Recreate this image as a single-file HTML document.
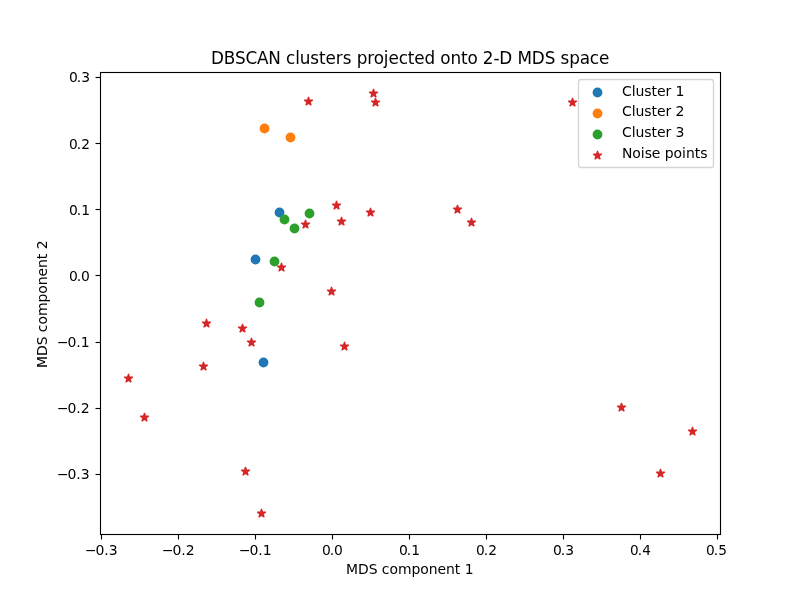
<!DOCTYPE html>
<html lang="en">
<head>
<meta charset="utf-8">
<title>DBSCAN clusters projected onto 2-D MDS space</title>
<style>
html,body{margin:0;padding:0;background:#fff;overflow:hidden}
body{width:800px;height:600px}
svg text{white-space:pre;}
</style>
</head>
<body>
<svg width="800" height="600" viewBox="0 0 800 600" style="display:block;font-family:'DejaVu Sans', 'Liberation Sans', sans-serif">
<rect x="0" y="0" width="800" height="600" fill="#ffffff"/>
<g>
<circle cx="279.5" cy="212.5" r="4.9" fill="#1f77b4"/>
<circle cx="255.5" cy="259.5" r="4.9" fill="#1f77b4"/>
<circle cx="263.5" cy="362.5" r="4.9" fill="#1f77b4"/>
<circle cx="264.5" cy="128.5" r="4.9" fill="#ff7f0e"/>
<circle cx="290.5" cy="137.5" r="4.9" fill="#ff7f0e"/>
<circle cx="284.5" cy="219.5" r="4.9" fill="#2ca02c"/>
<circle cx="309.5" cy="213.5" r="4.9" fill="#2ca02c"/>
<circle cx="294.5" cy="228.5" r="4.9" fill="#2ca02c"/>
<circle cx="274.5" cy="261.5" r="4.9" fill="#2ca02c"/>
<circle cx="259.5" cy="302.5" r="4.9" fill="#2ca02c"/>
<polygon points="308.5,97.333 307.565,100.212 304.537,100.212 306.986,101.992 306.051,104.871 308.5,103.092 310.949,104.871 310.014,101.992 312.463,100.212 309.435,100.212" fill="#d62728" stroke="#d62728" stroke-width="1.389" stroke-linejoin="round"/>
<polygon points="373.5,89.333 372.565,92.212 369.537,92.212 371.986,93.992 371.051,96.871 373.5,95.092 375.949,96.871 375.014,93.992 377.463,92.212 374.435,92.212" fill="#d62728" stroke="#d62728" stroke-width="1.389" stroke-linejoin="round"/>
<polygon points="375.5,98.333 374.565,101.212 371.537,101.212 373.986,102.992 373.051,105.871 375.5,104.092 377.949,105.871 377.014,102.992 379.463,101.212 376.435,101.212" fill="#d62728" stroke="#d62728" stroke-width="1.389" stroke-linejoin="round"/>
<polygon points="572.5,98.333 571.565,101.212 568.537,101.212 570.986,102.992 570.051,105.871 572.5,104.092 574.949,105.871 574.014,102.992 576.463,101.212 573.435,101.212" fill="#d62728" stroke="#d62728" stroke-width="1.389" stroke-linejoin="round"/>
<polygon points="305.5,220.333 304.565,223.212 301.537,223.212 303.986,224.992 303.051,227.871 305.5,226.092 307.949,227.871 307.014,224.992 309.463,223.212 306.435,223.212" fill="#d62728" stroke="#d62728" stroke-width="1.389" stroke-linejoin="round"/>
<polygon points="336.5,201.333 335.565,204.212 332.537,204.212 334.986,205.992 334.051,208.871 336.5,207.092 338.949,208.871 338.014,205.992 340.463,204.212 337.435,204.212" fill="#d62728" stroke="#d62728" stroke-width="1.389" stroke-linejoin="round"/>
<polygon points="341.5,217.333 340.565,220.212 337.537,220.212 339.986,221.992 339.051,224.871 341.5,223.092 343.949,224.871 343.014,221.992 345.463,220.212 342.435,220.212" fill="#d62728" stroke="#d62728" stroke-width="1.389" stroke-linejoin="round"/>
<polygon points="370.5,208.333 369.565,211.212 366.537,211.212 368.986,212.992 368.051,215.871 370.5,214.092 372.949,215.871 372.014,212.992 374.463,211.212 371.435,211.212" fill="#d62728" stroke="#d62728" stroke-width="1.389" stroke-linejoin="round"/>
<polygon points="281.5,263.333 280.565,266.212 277.537,266.212 279.986,267.992 279.051,270.871 281.5,269.092 283.949,270.871 283.014,267.992 285.463,266.212 282.435,266.212" fill="#d62728" stroke="#d62728" stroke-width="1.389" stroke-linejoin="round"/>
<polygon points="331.5,287.333 330.565,290.212 327.537,290.212 329.986,291.992 329.051,294.871 331.5,293.092 333.949,294.871 333.014,291.992 335.463,290.212 332.435,290.212" fill="#d62728" stroke="#d62728" stroke-width="1.389" stroke-linejoin="round"/>
<polygon points="206.5,319.333 205.565,322.212 202.537,322.212 204.986,323.992 204.051,326.871 206.5,325.092 208.949,326.871 208.014,323.992 210.463,322.212 207.435,322.212" fill="#d62728" stroke="#d62728" stroke-width="1.389" stroke-linejoin="round"/>
<polygon points="242.5,324.333 241.565,327.212 238.537,327.212 240.986,328.992 240.051,331.871 242.5,330.092 244.949,331.871 244.014,328.992 246.463,327.212 243.435,327.212" fill="#d62728" stroke="#d62728" stroke-width="1.389" stroke-linejoin="round"/>
<polygon points="251.5,338.333 250.565,341.212 247.537,341.212 249.986,342.992 249.051,345.871 251.5,344.092 253.949,345.871 253.014,342.992 255.463,341.212 252.435,341.212" fill="#d62728" stroke="#d62728" stroke-width="1.389" stroke-linejoin="round"/>
<polygon points="203.5,362.333 202.565,365.212 199.537,365.212 201.986,366.992 201.051,369.871 203.5,368.092 205.949,369.871 205.014,366.992 207.463,365.212 204.435,365.212" fill="#d62728" stroke="#d62728" stroke-width="1.389" stroke-linejoin="round"/>
<polygon points="128.5,374.333 127.565,377.212 124.537,377.212 126.986,378.992 126.051,381.871 128.5,380.092 130.949,381.871 130.014,378.992 132.463,377.212 129.435,377.212" fill="#d62728" stroke="#d62728" stroke-width="1.389" stroke-linejoin="round"/>
<polygon points="144.5,413.333 143.565,416.212 140.537,416.212 142.986,417.992 142.051,420.871 144.5,419.092 146.949,420.871 146.014,417.992 148.463,416.212 145.435,416.212" fill="#d62728" stroke="#d62728" stroke-width="1.389" stroke-linejoin="round"/>
<polygon points="245.5,467.333 244.565,470.212 241.537,470.212 243.986,471.992 243.051,474.871 245.5,473.092 247.949,474.871 247.014,471.992 249.463,470.212 246.435,470.212" fill="#d62728" stroke="#d62728" stroke-width="1.389" stroke-linejoin="round"/>
<polygon points="261.5,509.333 260.565,512.212 257.537,512.212 259.986,513.992 259.051,516.871 261.5,515.092 263.949,516.871 263.014,513.992 265.463,512.212 262.435,512.212" fill="#d62728" stroke="#d62728" stroke-width="1.389" stroke-linejoin="round"/>
<polygon points="344.5,342.333 343.565,345.212 340.537,345.212 342.986,346.992 342.051,349.871 344.5,348.092 346.949,349.871 346.014,346.992 348.463,345.212 345.435,345.212" fill="#d62728" stroke="#d62728" stroke-width="1.389" stroke-linejoin="round"/>
<polygon points="457.5,205.333 456.565,208.212 453.537,208.212 455.986,209.992 455.051,212.871 457.5,211.092 459.949,212.871 459.014,209.992 461.463,208.212 458.435,208.212" fill="#d62728" stroke="#d62728" stroke-width="1.389" stroke-linejoin="round"/>
<polygon points="471.5,218.333 470.565,221.212 467.537,221.212 469.986,222.992 469.051,225.871 471.5,224.092 473.949,225.871 473.014,222.992 475.463,221.212 472.435,221.212" fill="#d62728" stroke="#d62728" stroke-width="1.389" stroke-linejoin="round"/>
<polygon points="621.5,403.333 620.565,406.212 617.537,406.212 619.986,407.992 619.051,410.871 621.5,409.092 623.949,410.871 623.014,407.992 625.463,406.212 622.435,406.212" fill="#d62728" stroke="#d62728" stroke-width="1.389" stroke-linejoin="round"/>
<polygon points="692.5,427.333 691.565,430.212 688.537,430.212 690.986,431.992 690.051,434.871 692.5,433.092 694.949,434.871 694.014,431.992 696.463,430.212 693.435,430.212" fill="#d62728" stroke="#d62728" stroke-width="1.389" stroke-linejoin="round"/>
<polygon points="660.5,469.333 659.565,472.212 656.537,472.212 658.986,473.992 658.051,476.871 660.5,475.092 662.949,476.871 662.014,473.992 664.463,472.212 661.435,472.212" fill="#d62728" stroke="#d62728" stroke-width="1.389" stroke-linejoin="round"/>
</g>
<g stroke="#000" stroke-width="1.111" fill="none">
<line x1="101.5" y1="534.5" x2="101.5" y2="539.5"/>
<line x1="178.5" y1="534.5" x2="178.5" y2="539.5"/>
<line x1="255.5" y1="534.5" x2="255.5" y2="539.5"/>
<line x1="332.5" y1="534.5" x2="332.5" y2="539.5"/>
<line x1="409.5" y1="534.5" x2="409.5" y2="539.5"/>
<line x1="486.5" y1="534.5" x2="486.5" y2="539.5"/>
<line x1="563.5" y1="534.5" x2="563.5" y2="539.5"/>
<line x1="640.5" y1="534.5" x2="640.5" y2="539.5"/>
<line x1="717.5" y1="534.5" x2="717.5" y2="539.5"/>
<line x1="100.5" y1="77.5" x2="95.5" y2="77.5"/>
<line x1="100.5" y1="143.5" x2="95.5" y2="143.5"/>
<line x1="100.5" y1="209.5" x2="95.5" y2="209.5"/>
<line x1="100.5" y1="275.5" x2="95.5" y2="275.5"/>
<line x1="100.5" y1="342.5" x2="95.5" y2="342.5"/>
<line x1="100.5" y1="408.5" x2="95.5" y2="408.5"/>
<line x1="100.5" y1="474.5" x2="95.5" y2="474.5"/>
<rect x="100.5" y="72.5" width="620.0" height="462.0" stroke-linejoin="miter"/>
</g>
<g fill="#000">
<text transform="translate(86 555) scale(1.0100 1.0200)" x="-0.99 9.53 18.193 22.525" y="0" font-size="13.889px">−0.3</text>
<text transform="translate(163 555) scale(1.0100 1.0200)" x="-0.99 9.53 18.193 22.525" y="0" font-size="13.889px">−0.2</text>
<text transform="translate(240 555) scale(1.0100 1.0200)" x="-0.99 9.53 18.193 22.525" y="0" font-size="13.889px">−0.1</text>
<text transform="translate(322 555) scale(1.0000 0.9800)" x="0 7.75 12.125" y="0" font-size="13.889px">0.0</text>
<text transform="translate(399 555)" x="0 7.75 12.125" y="0" font-size="13.889px">0.1</text>
<text transform="translate(476.06 555) scale(0.9900 1.0400)" x="0 7.828 12.247" y="0" font-size="13.889px">0.2</text>
<text transform="translate(553 555)" x="0 7.75 12.125" y="0" font-size="13.889px">0.3</text>
<text transform="translate(630.12 555) scale(0.9800 0.9700)" x="0 7.908 12.372" y="0" font-size="13.889px">0.4</text>
<text transform="translate(706.12 555) scale(0.9900 1.0400)" x="0 7.828 12.247" y="0" font-size="13.889px">0.5</text>
<text transform="translate(69 82)" x="0 7.75 12.125" y="0" font-size="13.889px">0.3</text>
<text transform="translate(69.06 149) scale(0.9900 1.0400)" x="0 7.828 12.247" y="0" font-size="13.889px">0.2</text>
<text transform="translate(69 215)" x="0 7.75 12.125" y="0" font-size="13.889px">0.1</text>
<text transform="translate(69 281) scale(1.0000 0.9800)" x="0 7.75 12.125" y="0" font-size="13.889px">0.0</text>
<text transform="translate(58 347) scale(1.0100 1.0200)" x="-0.99 9.53 18.193 22.525" y="0" font-size="13.889px">−0.1</text>
<text transform="translate(58 413) scale(1.0100 1.0200)" x="-0.99 9.53 18.193 22.525" y="0" font-size="13.889px">−0.2</text>
<text transform="translate(58 479) scale(1.0100 1.0200)" x="-0.99 9.53 18.193 22.525" y="0" font-size="13.889px">−0.3</text>
<text transform="translate(346 574) scale(1.0050 1.0500)" x="0 11.94 22.637 31.343 35.697 43.284 51.741 65.174 74.005 82.463 91.169 99.627 108.333 113.806 118.159" y="0" font-size="13.889px">MDS component 1</text>
<text transform="translate(47 368) rotate(-90) scale(1.0050 1.0300)" x="0 11.94 22.637 31.343 35.697 43.284 51.741 65.174 74.005 82.463 91.169 99.627 108.333 113.806 118.159" y="0" font-size="13.889px">MDS component 2</text>
<text transform="translate(211 64) scale(1.0100 1.0600)" x="0 12.748 23.762 34.158 45.545 56.807 69.183 74.381 83.416 87.995 98.391 107.054 113.49 123.639 130.446 139.109 144.307 154.703 161.139 171.163 175.743 185.891 194.926 201.361 211.51 221.906 227.104 237.129 247.525 253.96 263.985 269.183 279.703 285.52 298.267 303.465 317.698 330.446 340.842 346.04 354.703 365.099 375.124 384.158" y="0" font-size="16.667px">DBSCAN clusters projected onto 2-D MDS space</text>
</g>
<rect x="578.50" y="79.50" width="135.00" height="88.00" rx="2.78" fill="#fff" fill-opacity="0.8" stroke="#ccc" stroke-opacity="0.8" stroke-width="1.389"/>
<circle cx="597.5" cy="92.5" r="4.9" fill="#1f77b4"/>
<circle cx="597.5" cy="113.5" r="4.9" fill="#ff7f0e"/>
<circle cx="597.5" cy="134.5" r="4.9" fill="#2ca02c"/>
<polygon points="597.5,151.333 596.565,154.212 593.537,154.212 595.986,155.992 595.051,158.871 597.5,157.092 599.949,158.871 599.014,155.992 601.463,154.212 598.435,154.212" fill="#d62728" stroke="#d62728" stroke-width="1.389" stroke-linejoin="round"/>
<g fill="#000">
<text transform="translate(622 96) scale(1.0100 1.0400)" x="0 9.653 13.49 22.153 29.208 34.653 43.069 48.762 53.094" y="0" font-size="13.889px">Cluster 1</text>
<text transform="translate(622 116) scale(1.0100 1.0300)" x="0 9.653 13.49 22.153 29.208 34.653 43.069 48.762 53.094" y="0" font-size="13.889px">Cluster 2</text>
<text transform="translate(622 137) scale(1.0100 1.0100)" x="0 9.653 13.49 22.153 29.208 34.653 43.069 48.762 53.094" y="0" font-size="13.889px">Cluster 3</text>
<text transform="translate(622 158) scale(1.0050 1.0700)" x="0 10.323 18.781 22.637 29.726 38.184 42.537 51.368 59.826 63.682 72.388 77.861" y="0" font-size="13.889px">Noise points</text>
</g>
</svg>
</body>
</html>
